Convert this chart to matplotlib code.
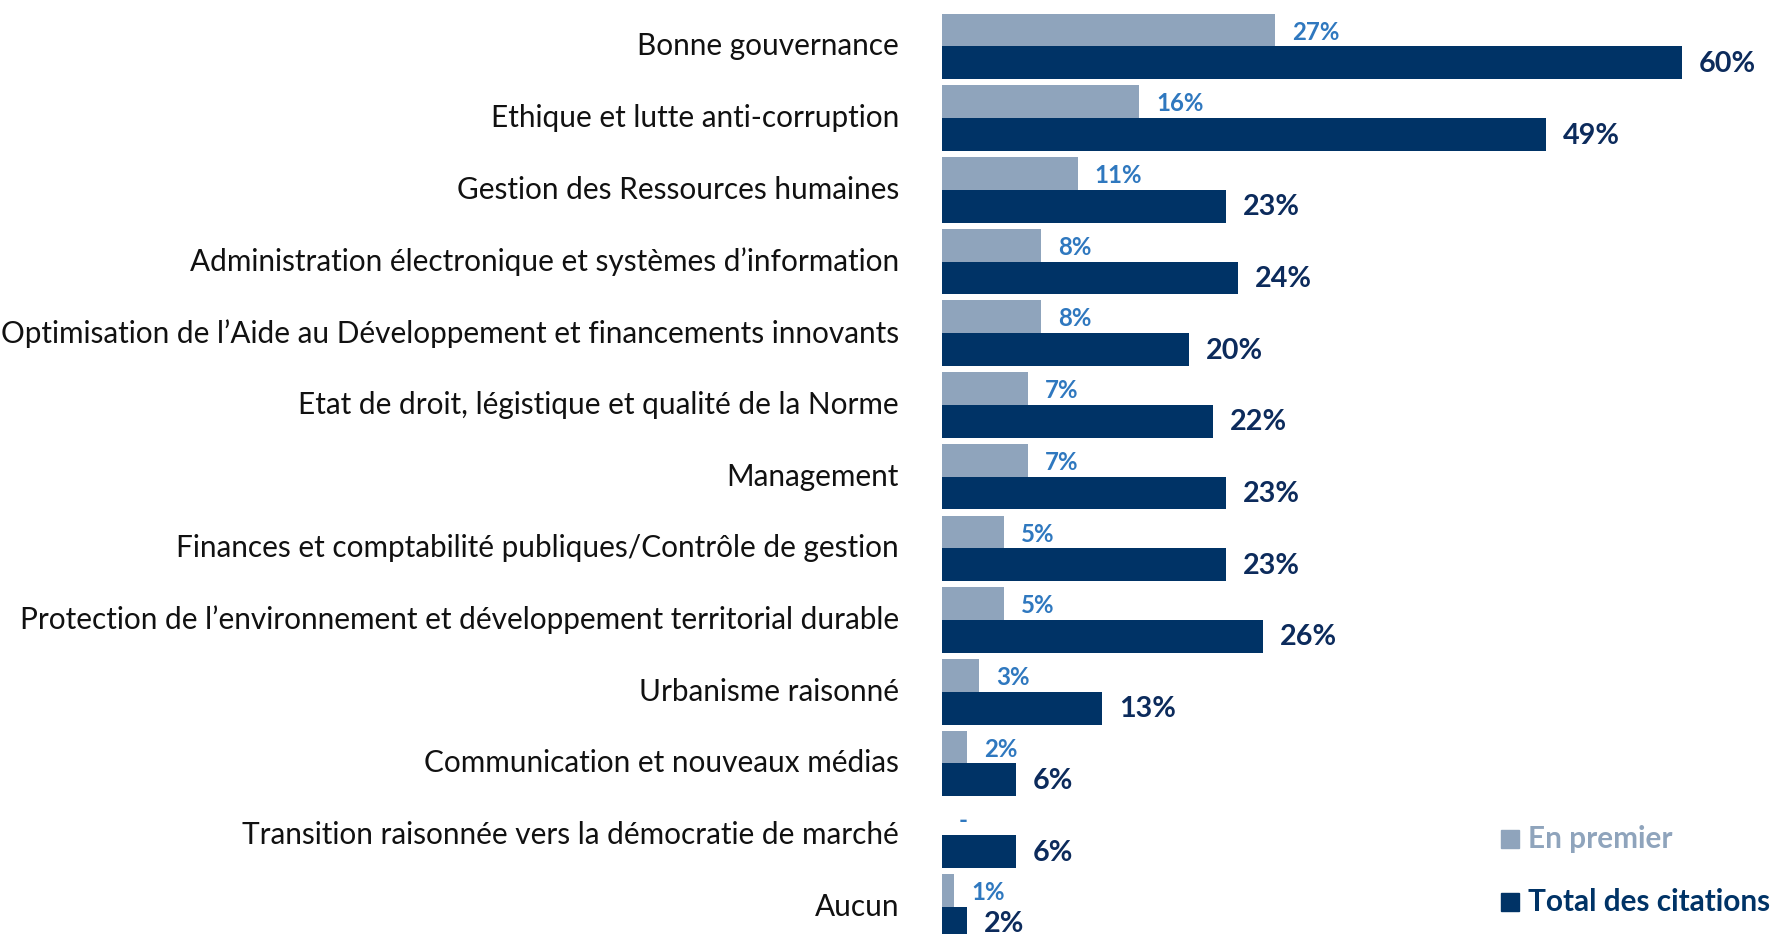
import matplotlib
matplotlib.use("Agg")
import matplotlib.pyplot as plt
from matplotlib.patches import Rectangle

categories = [
    "Bonne gouvernance",
    "Ethique et lutte anti-corruption",
    "Gestion des Ressources humaines",
    "Administration électronique et systèmes d\u2019information",
    "Optimisation de l\u2019Aide au Développement et financements innovants",
    "Etat de droit, légistique et qualité de la Norme",
    "Management",
    "Finances et comptabilité publiques/Contrôle de gestion",
    "Protection de l\u2019environnement et développement territorial durable",
    "Urbanisme raisonné",
    "Communication et nouveaux médias",
    "Transition raisonnée vers la démocratie de marché",
    "Aucun",
]
en_premier = [27, 16, 11, 8, 8, 7, 7, 5, 5, 3, 2, 0, 1]
en_premier_labels = ["27%", "16%", "11%", "8%", "8%", "7%", "7%", "5%", "5%", "3%", "2%", "-", "1%"]
total = [60, 49, 23, 24, 20, 22, 23, 23, 26, 13, 6, 6, 2]
total_labels = ["60%", "49%", "23%", "24%", "20%", "22%", "23%", "23%", "26%", "13%", "6%", "6%", "2%"]
series_names = ["En premier", "Total des citations"]

LIGHT = "#8FA4BC"
DARK = "#003366"
LIGHT_TXT = "#2F78BF"
DARK_TXT = "#0C2B5C"
FONT = "Lato"

W, H = 1772, 934
fig = plt.figure(figsize=(W / 100, H / 100), dpi=100)
x0 = 942 / W
ax = fig.add_axes([x0, 0, 1 - x0, 1])
ppp = 12.33  # pixels per percent
ax.set_xlim(0, (W - 942) / ppp)
pitch = 71.7
ax.set_ylim((H - 46.4) / pitch, -46.4 / pitch)
ax.axis("off")

bh = 32.8 / pitch
n = len(categories)
ys = list(range(n))
ax.barh([y - bh / 2 for y in ys], en_premier, height=bh, color=LIGHT, label=series_names[0])
ax.barh([y + bh / 2 for y in ys], total, height=bh, color=DARK, label=series_names[1])

dx = 17 / ppp
for y, v, lab in zip(ys, en_premier, en_premier_labels):
    ax.text(v + dx, y - bh / 2 + 0.03, lab, ha="left", va="center", fontsize=17.3,
            fontweight="bold", color=LIGHT_TXT, family=FONT)
for y, v, lab in zip(ys, total, total_labels):
    ax.text(v + dx, y + bh / 2 + 0.015, lab, ha="left", va="center", fontsize=20.7,
            fontweight="bold", color=DARK_TXT, family=FONT)

# category labels
for y, c in zip(ys, categories):
    fig.text(899 / W, 1 - (46.4 + pitch * y) / H, c, ha="right", va="center",
             fontsize=21.4, color="#111111", family=FONT)

# legend
for i, (name, col, tcol) in enumerate([(series_names[0], LIGHT, LIGHT), (series_names[1], DARK, DARK)]):
    yc = [839, 902][i]
    fig.patches.append(Rectangle((1501 / W, 1 - (yc + 9) / H), 18 / W, 18 / H,
                                 transform=fig.transFigure, color=col, figure=fig))
    fig.text(1528 / W, 1 - yc / H, name, ha="left", va="center", fontsize=21.4,
             fontweight="bold", color=tcol, family=FONT)

fig.savefig("out.png", dpi=100)
